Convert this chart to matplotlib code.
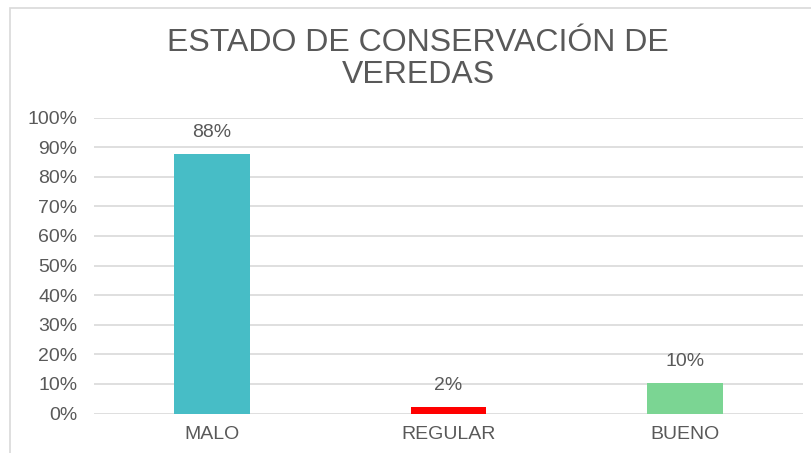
import matplotlib.pyplot as plt
import matplotlib.patches as mpatches
import matplotlib.ticker as mticker

# data
categories = ['MALO', 'REGULAR', 'BUENO']
values = [0.876, 0.021, 0.103]
colors = ['#47BDC6', '#FF0000', '#7BD593']
yticks = [i / 10 for i in range(11)]

plt.rcParams['font.family'] = ['Liberation Sans', 'DejaVu Sans']
text_color = '#595959'
grid_color = '#D9D9D9'

fig = plt.figure(figsize=(8.12, 4.53), dpi=100)
W, H = 812, 453

# chart frame (cropped at right and bottom)
fig.patches.append(mpatches.Rectangle((10 / W, -0.1), 1.2, 1 - 8 / H + 0.1,
                                      transform=fig.transFigure,
                                      fill=False, edgecolor=grid_color,
                                      linewidth=1.2))

ax = fig.add_axes([94 / W, 1 - 413.5 / H, (803 - 94) / W, (413.5 - 117.5) / H])

x = range(len(categories))
bars = ax.bar(x, values, width=0.32, color=colors, zorder=3)

for b, v in zip(bars, values):
    ax.text(b.get_x() + b.get_width() / 2, v + 0.072, '{:.0%}'.format(v),
            ha='center', va='center', fontsize=14, color=text_color)

ax.set_xlim(-0.5, len(categories) - 0.5)
ax.set_ylim(0, 1)
ax.set_yticks(yticks)
ax.yaxis.set_major_formatter(mticker.PercentFormatter(1.0, decimals=0))
ax.set_xticks(list(x))
ax.set_xticklabels(categories)

ax.grid(True, axis='y', color=grid_color, linewidth=1.2, zorder=0)
for s in ax.spines.values():
    s.set_visible(False)
ax.tick_params(axis='both', length=0, labelsize=14, labelcolor=text_color)
ax.tick_params(axis='y', pad=12)
ax.tick_params(axis='x', pad=9)

fig.text(418 / W, 1 - 59 / H, 'ESTADO DE CONSERVACIÓN DE\nVEREDAS',
         ha='center', va='center', fontsize=23, color=text_color,
         linespacing=1.08)

fig.savefig('out.png', dpi=100)
